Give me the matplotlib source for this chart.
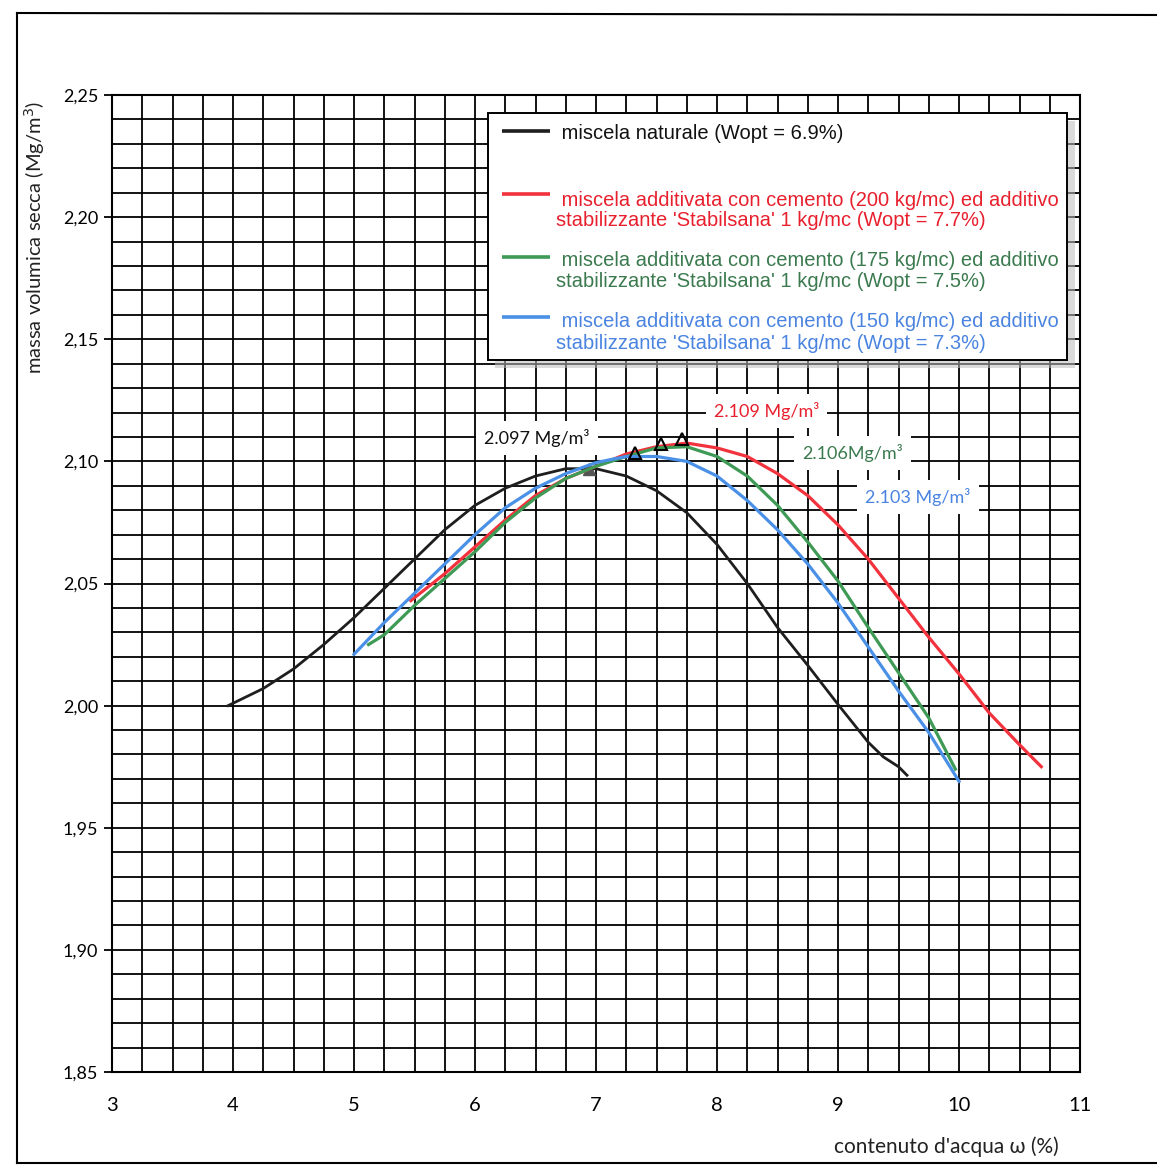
import matplotlib

matplotlib.use('Agg')
import matplotlib.pyplot as plt
from matplotlib.patches import Rectangle
from matplotlib.lines import Line2D
import numpy as np

plt.rcParams['font.family'] = ['Lato', 'DejaVu Sans']

# --- dati ---
x_nat = [3.96, 4.25, 4.5, 4.75, 5.0, 5.25, 5.5, 5.75, 6.0, 6.25, 6.5, 6.75, 7.0,
         7.25, 7.5, 7.75, 8.0, 8.25, 8.5, 8.75, 9.0, 9.25, 9.375, 9.5, 9.57]
y_nat = [2.000, 2.007, 2.015, 2.025, 2.036, 2.048, 2.060, 2.072, 2.082, 2.089, 2.094,
         2.097, 2.097, 2.094, 2.088, 2.079, 2.066, 2.050, 2.032, 2.0165, 2.0005, 1.985,
         1.979, 1.975, 1.9715]

x_200 = [5.47, 5.75, 6.0, 6.25, 6.5, 6.75, 7.0, 7.25, 7.5, 7.75, 8.0, 8.25, 8.5,
         8.75, 9.0, 9.25, 9.5, 9.75, 10.0, 10.25, 10.5, 10.68]
y_200 = [2.043, 2.054, 2.065, 2.076, 2.086, 2.093, 2.098, 2.103, 2.106, 2.1075, 2.1055,
         2.102, 2.095, 2.086, 2.074, 2.060, 2.044, 2.028, 2.013, 1.997, 1.984, 1.975]

x_175 = [5.12, 5.25, 5.5, 5.75, 6.0, 6.25, 6.5, 6.75, 7.0, 7.25, 7.5, 7.75, 8.0,
         8.25, 8.5, 8.75, 9.0, 9.25, 9.5, 9.75, 9.97]
y_175 = [2.025, 2.029, 2.041, 2.052, 2.063, 2.075, 2.085, 2.093, 2.098, 2.102, 2.1055,
         2.106, 2.102, 2.094, 2.082, 2.067, 2.051, 2.032, 2.0135, 1.995, 1.974]

x_150 = [5.0, 5.25, 5.5, 5.75, 6.0, 6.25, 6.5, 6.75, 7.0, 7.25, 7.5, 7.75, 8.0,
         8.25, 8.5, 8.75, 9.0, 9.25, 9.5, 9.75, 10.0]
y_150 = [2.021, 2.034, 2.046, 2.058, 2.070, 2.081, 2.089, 2.095, 2.0995, 2.102, 2.102,
         2.100, 2.094, 2.084, 2.072, 2.058, 2.042, 2.024, 2.006, 1.989, 1.969]

# punti di ottimo (triangoli)
opt_x = [6.94, 7.71, 7.54, 7.32]
opt_y = [2.097, 2.109, 2.107, 2.1033]

# etichette dei massimi
peak_labels = ['2.097 Mg/m³', '2.109 Mg/m³', '2.106Mg/m³', '2.103 Mg/m³']
peak_label_x = [6.51, 8.41, 9.12, 9.66]
peak_label_y = [2.1096, 2.1206, 2.1034, 2.0854]

legend_labels = [
    [' miscela naturale (Wopt = 6.9%)'],
    [' miscela additivata con cemento (200 kg/mc) ed additivo',
     "stabilizzante 'Stabilsana' 1 kg/mc (Wopt = 7.7%)"],
    [' miscela additivata con cemento (175 kg/mc) ed additivo',
     "stabilizzante 'Stabilsana' 1 kg/mc (Wopt = 7.5%)"],
    [' miscela additivata con cemento (150 kg/mc) ed additivo',
     "stabilizzante 'Stabilsana' 1 kg/mc (Wopt = 7.3%)"],
]

x_ticks = [3, 4, 5, 6, 7, 8, 9, 10, 11]
y_ticks = [1.85, 1.90, 1.95, 2.00, 2.05, 2.10, 2.15, 2.20, 2.25]

line_colors = ['#1e1e1e', '#f2323c', '#3e9a55', '#4a90e6']
text_colors = ['#111111', '#e8202e', '#3b7a4e', '#4a84e0']

# --- figura ---
fig = plt.figure(figsize=(11.57, 11.65), dpi=100)
W, H = 1157, 1165
ax = fig.add_axes([112 / W, 1 - 1072 / H, (1080 - 112) / W, (1072 - 95) / H])

ax.set_xlim(3, 11)
ax.set_ylim(1.85, 2.25)
ax.set_xticks(np.arange(3, 11.001, 0.25), minor=True)
ax.set_yticks(np.arange(1.85, 2.2501, 0.01), minor=True)
ax.set_xticks(x_ticks)
ax.set_yticks(y_ticks)
ax.set_xticklabels([str(v) for v in x_ticks], fontsize=14.5)
ax.set_yticklabels([f'{v:.2f}'.replace('.', ',') for v in y_ticks], fontsize=13)
ax.grid(True, which='both', color='black', lw=1.3)
ax.tick_params(axis='x', which='both', length=0, pad=18)
ax.tick_params(axis='y', which='major', length=6, width=1.3, pad=4)
ax.tick_params(axis='y', which='minor', length=0)
for s in ax.spines.values():
    s.set_linewidth(1.5)
ax.set_axisbelow(True)

# curve
ax.plot(opt_x[0], opt_y[0], marker='^', ms=9, color='#555555', zorder=3)
ax.plot(x_nat, y_nat, color=line_colors[0], lw=2.0, zorder=4, solid_joinstyle='round')
ax.plot(x_200, y_200, color=line_colors[1], lw=2.3, zorder=4, solid_joinstyle='round')
ax.plot(x_175, y_175, color=line_colors[2], lw=2.3, zorder=5, solid_joinstyle='round')
ax.plot(x_150, y_150, color=line_colors[3], lw=2.3, zorder=6, solid_joinstyle='round')
ax.plot(opt_x[1:], opt_y[1:], linestyle='none', marker='^', ms=9,
        mfc='none', mec='black', mew=1.5, zorder=7)

for lab, lx, ly, c in zip(peak_labels, peak_label_x, peak_label_y, text_colors):
    ax.text(lx, ly, lab, color=c, fontsize=13, ha='center', va='center', zorder=8,
            bbox=dict(boxstyle='square,pad=0.45', fc='white', ec='none'))

# legenda disegnata a mano
ax.add_patch(Rectangle((0.396, 0.7208), 0.5986, 0.2528, transform=ax.transAxes,
                       fc='#bdbdbd', ec='none', alpha=0.55, zorder=9))
ax.add_patch(Rectangle((0.388, 0.7288), 0.5986, 0.2528, transform=ax.transAxes,
                       fc='white', ec='black', lw=1.4, zorder=10))
handle_y = [0.9632, 0.8987, 0.8342, 0.7728]
text_y = [[0.9611], [0.8925, 0.8711], [0.8311, 0.8086], [0.7677, 0.7452]]
for i in range(4):
    ax.plot([0.4029, 0.4525], [handle_y[i], handle_y[i]], transform=ax.transAxes,
            color=line_colors[i], lw=2.6, zorder=11, solid_capstyle='butt')
    for t, ty in zip(legend_labels[i], text_y[i]):
        ax.text(0.4587, ty, t, transform=ax.transAxes, color=text_colors[i],
                fontsize=14.5, family='Liberation Sans', ha='left', va='center', zorder=11)

# etichette assi
fig.text(35 / W, 1 - 237 / H, 'massa volumica secca (Mg/m$^3$)', rotation=90,
         fontsize=14.5, ha='center', va='center', color='#222222')
fig.text(946 / W, 1 - 1147 / H, "contenuto d'acqua ω (%)", fontsize=15,
         ha='center', va='center', color='#222222')

# cornice esterna
fig.add_artist(Line2D([17 / W, 1], [1 - 13 / H, 1 - 15 / H], color='black', lw=1.5))
fig.add_artist(Line2D([17 / W, 17 / W], [1 - 13 / H, 1 - 1163 / H], color='black', lw=1.5))
fig.add_artist(Line2D([17 / W, 1], [1 - 1163 / H, 1 - 1163 / H], color='black', lw=1.5))

fig.savefig('out.png', dpi=100, facecolor='white')
